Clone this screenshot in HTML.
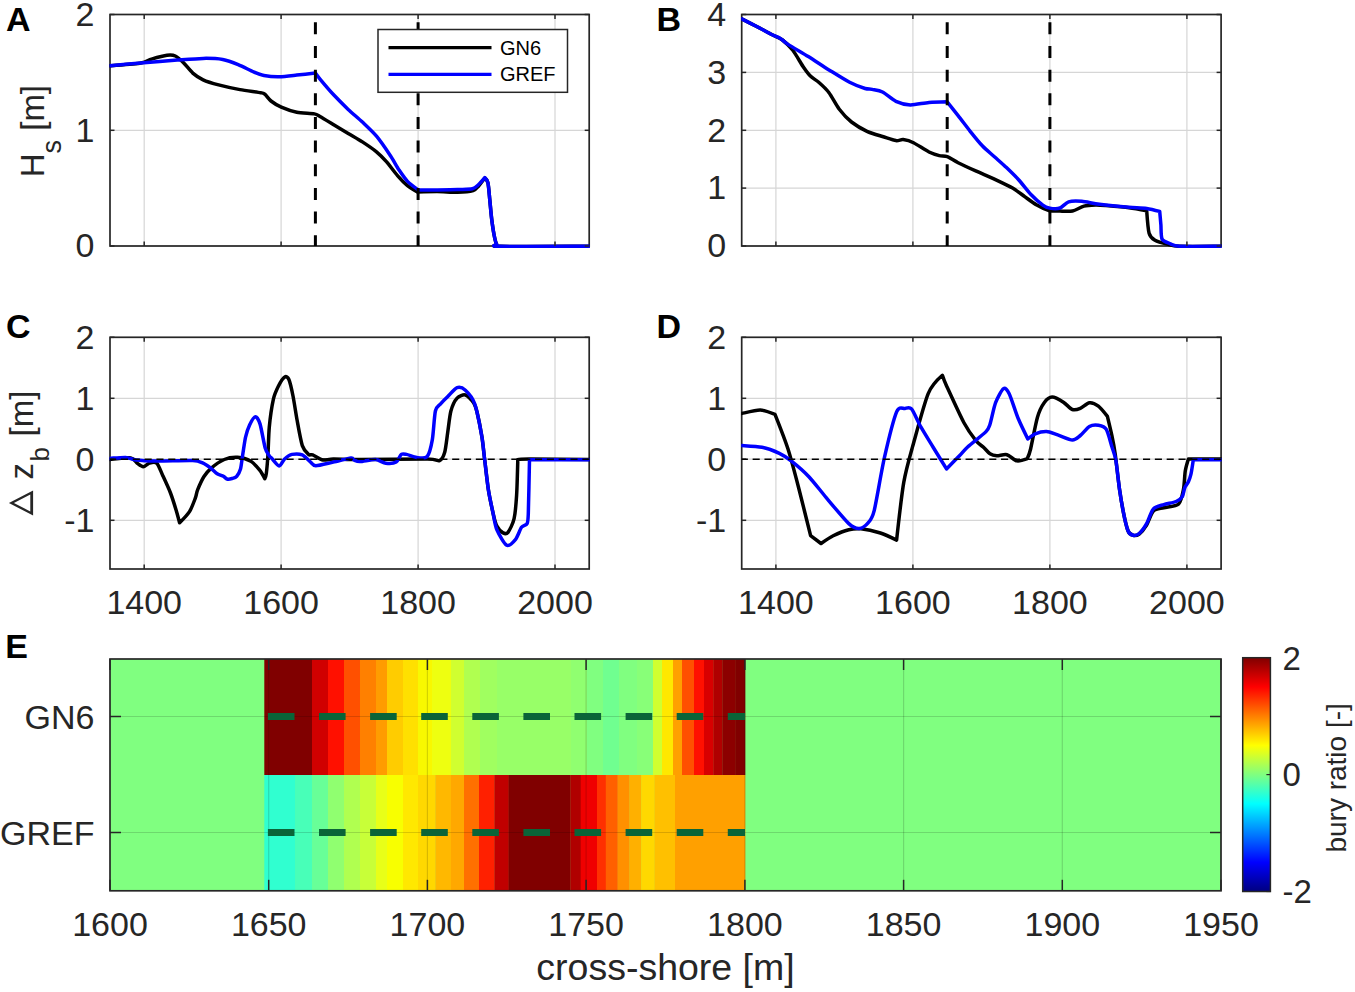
<!DOCTYPE html><html><head><meta charset="utf-8"><style>html,body{margin:0;padding:0;background:#fff;width:1355px;height:992px;overflow:hidden;position:relative}</style></head><body><svg width="1355" height="992" viewBox="0 0 1355 992" style="position:absolute;left:0;top:0">
<defs>
<clipPath id="cA"><rect x="109.5" y="12.5" width="480.20000000000005" height="235.5"/></clipPath>
<clipPath id="cB"><rect x="741.2" y="12.5" width="480.39999999999986" height="235.5"/></clipPath>
<clipPath id="cC"><rect x="109.5" y="335.3" width="480.20000000000005" height="235.7"/></clipPath>
<clipPath id="cD"><rect x="741.2" y="335.3" width="480.39999999999986" height="235.7"/></clipPath>
</defs>
<g font-family='"Liberation Sans", sans-serif'>
<line x1="144.2" y1="14.5" x2="144.2" y2="246.0" stroke="#d6d6d6" stroke-width="1.2"/>
<line x1="281.1" y1="14.5" x2="281.1" y2="246.0" stroke="#d6d6d6" stroke-width="1.2"/>
<line x1="418.1" y1="14.5" x2="418.1" y2="246.0" stroke="#d6d6d6" stroke-width="1.2"/>
<line x1="555.0" y1="14.5" x2="555.0" y2="246.0" stroke="#d6d6d6" stroke-width="1.2"/>
<line x1="110.0" y1="246.0" x2="589.2" y2="246.0" stroke="#d6d6d6" stroke-width="1.2"/>
<line x1="110.0" y1="130.3" x2="589.2" y2="130.3" stroke="#d6d6d6" stroke-width="1.2"/>
<line x1="110.0" y1="14.5" x2="589.2" y2="14.5" stroke="#d6d6d6" stroke-width="1.2"/>

<rect x="110.0" y="14.5" width="479.20000000000005" height="231.5" fill="none" stroke="#262626" stroke-width="1.7"/>
<g clip-path="url(#cA)" fill="none" stroke-linejoin="round" stroke-linecap="round">
<path d="M110.0,65.8 C114.1,65.4 135.5,63.8 141.0,62.9 C146.5,62.0 148.0,60.1 151.5,59.1 C155.0,58.1 163.8,55.7 167.0,55.3 C170.2,54.9 173.1,55.0 175.3,56.0 C177.5,57.0 181.2,60.4 183.5,62.7 C185.8,65.0 190.2,70.8 192.8,73.1 C195.4,75.4 199.7,78.2 203.1,79.8 C206.5,81.4 213.7,83.6 218.6,84.9 C223.5,86.2 234.4,88.6 240.0,89.6 C245.6,90.6 257.4,92.1 260.7,92.7 C264.0,93.3 263.4,93.1 264.8,94.2 C266.2,95.3 268.8,99.3 271.0,101.0 C273.2,102.7 277.9,105.7 281.3,107.2 C284.7,108.7 292.4,111.4 296.8,112.3 C301.2,113.2 311.3,113.3 314.4,113.9 C317.5,114.5 317.4,115.0 320.0,116.5 C322.6,118.0 330.3,122.7 334.1,125.0 C337.9,127.3 344.4,131.1 348.2,133.4 C352.0,135.7 358.6,139.4 362.4,141.9 C366.2,144.4 373.3,149.2 376.5,151.8 C379.7,154.4 383.6,158.5 386.4,161.7 C389.2,164.9 394.9,172.6 397.7,175.8 C400.5,179.0 404.9,183.5 407.5,185.7 C410.1,187.9 417.4,192.0 417.4,192.0 C417.4,192.0 431.6,191.6 437.0,191.6 C442.4,191.6 452.9,192.3 457.7,192.2 C462.5,192.1 470.4,191.3 473.2,190.5 C476.0,189.7 477.1,187.7 478.6,186.0 C480.1,184.3 484.8,178.0 484.8,178.0 C484.8,178.0 487.2,179.8 487.9,182.7 C488.6,185.6 489.3,195.0 489.8,200.0 C490.3,205.0 491.2,215.4 491.8,220.0 C492.4,224.6 493.4,231.3 494.0,234.5 C494.6,237.7 495.7,242.4 496.5,244.0 C497.3,245.6 487.7,246.0 500.0,246.3 C512.3,246.6 577.1,246.3 589.0,246.3" stroke="#000" stroke-width="3.5"/>
<path d="M110.0,65.8 C114.5,65.4 134.7,63.5 143.7,62.7 C152.7,61.9 169.4,60.7 177.3,60.1 C185.2,59.5 197.0,58.5 203.1,58.4 C209.2,58.3 218.0,58.7 222.7,59.5 C227.4,60.3 234.1,62.9 238.2,64.6 C242.3,66.3 250.2,70.4 253.6,71.9 C257.0,73.4 260.6,74.9 264.0,75.5 C267.4,76.1 274.9,76.8 279.3,76.7 C283.7,76.6 292.0,75.6 296.8,75.1 C301.6,74.6 315.4,73.1 315.4,73.1 C315.4,73.1 317.5,76.1 320.0,79.1 C322.5,82.1 330.3,91.3 334.1,95.3 C337.9,99.3 344.4,105.8 348.2,109.4 C352.0,113.0 358.6,118.5 362.4,122.1 C366.2,125.7 372.7,131.7 376.5,136.2 C380.3,140.7 387.6,151.5 390.6,156.0 C393.6,160.5 396.8,166.7 399.1,170.1 C401.4,173.5 405.0,178.8 407.5,181.4 C410.0,184.0 418.2,189.9 418.2,189.9 C418.2,189.9 431.7,190.1 437.0,190.0 C442.3,189.9 453.0,189.7 457.7,189.5 C462.4,189.3 469.6,189.5 472.4,188.8 C475.2,188.1 476.9,186.0 478.6,184.5 C480.3,183.0 484.8,177.6 484.8,177.6 C484.8,177.6 487.2,179.7 487.9,182.7 C488.6,185.7 489.3,195.0 489.8,200.0 C490.3,205.0 491.2,215.4 491.8,220.0 C492.4,224.6 493.4,231.3 494.0,234.5 C494.6,237.7 495.7,242.4 496.5,244.0 C497.3,245.6 487.7,246.0 500.0,246.3 C512.3,246.6 577.1,246.3 589.0,246.3" stroke="#0000ff" stroke-width="3.5"/>
</g>
<line x1="144.2" y1="246.0" x2="144.2" y2="241.5" stroke="#262626" stroke-width="1.5"/>
<line x1="144.2" y1="14.5" x2="144.2" y2="19.0" stroke="#262626" stroke-width="1.5"/>
<line x1="281.1" y1="246.0" x2="281.1" y2="241.5" stroke="#262626" stroke-width="1.5"/>
<line x1="281.1" y1="14.5" x2="281.1" y2="19.0" stroke="#262626" stroke-width="1.5"/>
<line x1="418.1" y1="246.0" x2="418.1" y2="241.5" stroke="#262626" stroke-width="1.5"/>
<line x1="418.1" y1="14.5" x2="418.1" y2="19.0" stroke="#262626" stroke-width="1.5"/>
<line x1="555.0" y1="246.0" x2="555.0" y2="241.5" stroke="#262626" stroke-width="1.5"/>
<line x1="555.0" y1="14.5" x2="555.0" y2="19.0" stroke="#262626" stroke-width="1.5"/>
<line x1="110.0" y1="246.0" x2="114.5" y2="246.0" stroke="#262626" stroke-width="1.5"/>
<line x1="589.2" y1="246.0" x2="584.7" y2="246.0" stroke="#262626" stroke-width="1.5"/>
<line x1="110.0" y1="130.3" x2="114.5" y2="130.3" stroke="#262626" stroke-width="1.5"/>
<line x1="589.2" y1="130.3" x2="584.7" y2="130.3" stroke="#262626" stroke-width="1.5"/>
<line x1="110.0" y1="14.5" x2="114.5" y2="14.5" stroke="#262626" stroke-width="1.5"/>
<line x1="589.2" y1="14.5" x2="584.7" y2="14.5" stroke="#262626" stroke-width="1.5"/>
<text x="94.5" y="257.3" text-anchor="end" font-size="34" fill="#262626">0</text>
<text x="94.5" y="141.60000000000002" text-anchor="end" font-size="34" fill="#262626">1</text>
<text x="94.5" y="25.8" text-anchor="end" font-size="34" fill="#262626">2</text>
<line x1="315.4" y1="246.0" x2="315.4" y2="14.5" stroke="#000" stroke-width="3" stroke-dasharray="12 11.65" stroke-dashoffset="1.2"/><line x1="418.1" y1="246.0" x2="418.1" y2="14.5" stroke="#000" stroke-width="3" stroke-dasharray="12 11.65" stroke-dashoffset="1.2"/>
<line x1="775.9" y1="14.5" x2="775.9" y2="246.0" stroke="#d6d6d6" stroke-width="1.2"/>
<line x1="912.9" y1="14.5" x2="912.9" y2="246.0" stroke="#d6d6d6" stroke-width="1.2"/>
<line x1="1049.9" y1="14.5" x2="1049.9" y2="246.0" stroke="#d6d6d6" stroke-width="1.2"/>
<line x1="1186.9" y1="14.5" x2="1186.9" y2="246.0" stroke="#d6d6d6" stroke-width="1.2"/>
<line x1="741.7" y1="246.0" x2="1221.1" y2="246.0" stroke="#d6d6d6" stroke-width="1.2"/>
<line x1="741.7" y1="188.1" x2="1221.1" y2="188.1" stroke="#d6d6d6" stroke-width="1.2"/>
<line x1="741.7" y1="130.3" x2="1221.1" y2="130.3" stroke="#d6d6d6" stroke-width="1.2"/>
<line x1="741.7" y1="72.4" x2="1221.1" y2="72.4" stroke="#d6d6d6" stroke-width="1.2"/>
<line x1="741.7" y1="14.5" x2="1221.1" y2="14.5" stroke="#d6d6d6" stroke-width="1.2"/>

<rect x="741.7" y="14.5" width="479.39999999999986" height="231.5" fill="none" stroke="#262626" stroke-width="1.7"/>
<g clip-path="url(#cB)" fill="none" stroke-linejoin="round" stroke-linecap="round">
<path d="M741.7,18.8 C743.7,19.8 752.6,24.4 756.7,26.5 C760.8,28.6 768.8,33.0 772.2,34.8 C775.6,36.6 779.8,37.9 782.5,40.0 C785.2,42.1 790.0,46.7 792.8,50.3 C795.6,53.9 800.9,63.4 803.2,66.8 C805.5,70.2 808.3,74.0 810.4,76.1 C812.5,78.2 816.2,80.1 818.7,82.3 C821.2,84.5 826.3,89.1 829.0,92.7 C831.7,96.3 836.3,105.3 839.3,109.2 C842.3,113.1 847.8,119.1 851.5,122.0 C855.2,124.9 862.9,129.4 867.0,131.3 C871.1,133.2 878.6,135.3 882.5,136.5 C886.4,137.7 893.1,140.2 895.9,140.6 C898.7,141.0 900.9,139.3 903.2,139.6 C905.5,139.9 910.1,141.0 913.5,142.7 C916.9,144.4 925.6,150.3 929.0,152.0 C932.4,153.7 936.9,155.0 939.3,155.6 C941.7,156.2 944.8,155.8 947.3,156.7 C949.8,157.6 954.2,160.8 958.1,162.7 C962.0,164.6 971.5,169.0 976.3,171.2 C981.1,173.4 989.6,176.8 994.4,179.1 C999.2,181.4 1008.6,185.8 1012.6,188.1 C1016.6,190.4 1021.5,194.3 1024.7,196.6 C1027.9,198.9 1033.6,203.2 1036.8,205.1 C1040.0,207.0 1045.8,209.7 1048.9,210.5 C1052.0,211.3 1056.9,211.0 1060.0,211.1 C1063.1,211.2 1069.3,211.7 1072.5,211.0 C1075.7,210.3 1080.9,206.9 1084.0,206.1 C1087.1,205.3 1092.6,205.1 1095.5,205.0 C1098.4,204.9 1100.9,205.1 1105.4,205.5 C1109.9,205.9 1123.5,207.1 1129.0,207.8 C1134.5,208.5 1146.7,210.8 1146.7,210.8 C1146.7,210.8 1148.0,229.3 1149.1,233.2 C1150.2,237.1 1152.5,238.8 1155.0,240.3 C1157.5,241.8 1164.7,243.6 1168.0,244.4 C1171.3,245.2 1172.7,246.0 1179.8,246.3 C1186.9,246.6 1215.5,246.3 1221.0,246.3" stroke="#000" stroke-width="3.5"/>
<path d="M741.7,18.8 C743.7,19.8 752.6,24.4 756.7,26.5 C760.8,28.6 769.0,33.2 772.2,34.8 C775.4,36.4 778.3,37.2 780.4,38.4 C782.5,39.6 784.0,41.7 787.7,44.1 C791.4,46.5 802.8,53.1 808.3,56.5 C813.8,59.9 823.5,66.5 829.0,69.9 C834.5,73.3 844.8,79.8 849.6,82.3 C854.4,84.8 862.1,87.6 865.1,88.5 C868.1,89.4 869.9,88.9 872.2,89.4 C874.5,89.9 879.3,90.4 882.5,92.0 C885.7,93.6 892.2,99.6 895.9,101.3 C899.6,103.0 906.0,104.8 910.4,104.9 C914.8,105.0 924.1,102.8 929.0,102.4 C933.9,102.0 947.0,101.7 947.0,101.7 C947.0,101.7 955.0,111.7 958.1,115.6 C961.2,119.5 967.0,127.3 970.2,131.3 C973.4,135.3 979.1,142.4 982.3,145.8 C985.5,149.2 991.2,153.8 994.4,156.7 C997.6,159.6 1003.3,164.5 1006.5,167.6 C1009.7,170.7 1015.4,176.2 1018.6,179.7 C1021.8,183.2 1027.5,190.8 1030.7,194.2 C1033.9,197.6 1040.3,203.2 1042.8,205.1 C1045.3,207.0 1047.5,207.7 1049.8,208.1 C1052.1,208.5 1057.5,208.8 1060.0,208.0 C1062.5,207.2 1065.7,202.7 1068.6,201.8 C1071.5,200.9 1077.7,201.0 1081.8,201.3 C1085.9,201.6 1093.2,203.5 1099.5,204.3 C1105.8,205.1 1122.7,206.7 1129.0,207.2 C1135.3,207.7 1142.6,207.8 1146.7,208.4 C1150.8,209.0 1159.7,211.4 1159.7,211.4 C1159.7,211.4 1160.6,221.2 1160.9,224.9 C1161.2,228.6 1160.8,236.6 1162.1,239.1 C1163.4,241.6 1168.0,242.8 1170.4,243.8 C1172.8,244.8 1173.1,246.0 1179.8,246.3 C1186.5,246.6 1215.5,246.3 1221.0,246.3" stroke="#0000ff" stroke-width="3.5"/>
</g>
<line x1="775.9" y1="246.0" x2="775.9" y2="241.5" stroke="#262626" stroke-width="1.5"/>
<line x1="775.9" y1="14.5" x2="775.9" y2="19.0" stroke="#262626" stroke-width="1.5"/>
<line x1="912.9" y1="246.0" x2="912.9" y2="241.5" stroke="#262626" stroke-width="1.5"/>
<line x1="912.9" y1="14.5" x2="912.9" y2="19.0" stroke="#262626" stroke-width="1.5"/>
<line x1="1049.9" y1="246.0" x2="1049.9" y2="241.5" stroke="#262626" stroke-width="1.5"/>
<line x1="1049.9" y1="14.5" x2="1049.9" y2="19.0" stroke="#262626" stroke-width="1.5"/>
<line x1="1186.9" y1="246.0" x2="1186.9" y2="241.5" stroke="#262626" stroke-width="1.5"/>
<line x1="1186.9" y1="14.5" x2="1186.9" y2="19.0" stroke="#262626" stroke-width="1.5"/>
<line x1="741.7" y1="246.0" x2="746.2" y2="246.0" stroke="#262626" stroke-width="1.5"/>
<line x1="1221.1" y1="246.0" x2="1216.6" y2="246.0" stroke="#262626" stroke-width="1.5"/>
<line x1="741.7" y1="188.1" x2="746.2" y2="188.1" stroke="#262626" stroke-width="1.5"/>
<line x1="1221.1" y1="188.1" x2="1216.6" y2="188.1" stroke="#262626" stroke-width="1.5"/>
<line x1="741.7" y1="130.3" x2="746.2" y2="130.3" stroke="#262626" stroke-width="1.5"/>
<line x1="1221.1" y1="130.3" x2="1216.6" y2="130.3" stroke="#262626" stroke-width="1.5"/>
<line x1="741.7" y1="72.4" x2="746.2" y2="72.4" stroke="#262626" stroke-width="1.5"/>
<line x1="1221.1" y1="72.4" x2="1216.6" y2="72.4" stroke="#262626" stroke-width="1.5"/>
<line x1="741.7" y1="14.5" x2="746.2" y2="14.5" stroke="#262626" stroke-width="1.5"/>
<line x1="1221.1" y1="14.5" x2="1216.6" y2="14.5" stroke="#262626" stroke-width="1.5"/>
<text x="726.2" y="257.3" text-anchor="end" font-size="34" fill="#262626">0</text>
<text x="726.2" y="199.4" text-anchor="end" font-size="34" fill="#262626">1</text>
<text x="726.2" y="141.60000000000002" text-anchor="end" font-size="34" fill="#262626">2</text>
<text x="726.2" y="83.7" text-anchor="end" font-size="34" fill="#262626">3</text>
<text x="726.2" y="25.8" text-anchor="end" font-size="34" fill="#262626">4</text>
<line x1="947.2" y1="246.0" x2="947.2" y2="14.5" stroke="#000" stroke-width="3" stroke-dasharray="12 11.65" stroke-dashoffset="1.2"/><line x1="1049.9" y1="246.0" x2="1049.9" y2="14.5" stroke="#000" stroke-width="3" stroke-dasharray="12 11.65" stroke-dashoffset="1.2"/>
<line x1="144.2" y1="337.3" x2="144.2" y2="569.0" stroke="#d6d6d6" stroke-width="1.2"/>
<line x1="281.1" y1="337.3" x2="281.1" y2="569.0" stroke="#d6d6d6" stroke-width="1.2"/>
<line x1="418.1" y1="337.3" x2="418.1" y2="569.0" stroke="#d6d6d6" stroke-width="1.2"/>
<line x1="555.0" y1="337.3" x2="555.0" y2="569.0" stroke="#d6d6d6" stroke-width="1.2"/>
<line x1="110.0" y1="520.3" x2="589.2" y2="520.3" stroke="#d6d6d6" stroke-width="1.2"/>
<line x1="110.0" y1="459.2" x2="589.2" y2="459.2" stroke="#d6d6d6" stroke-width="1.2"/>
<line x1="110.0" y1="398.3" x2="589.2" y2="398.3" stroke="#d6d6d6" stroke-width="1.2"/>
<line x1="110.0" y1="337.3" x2="589.2" y2="337.3" stroke="#d6d6d6" stroke-width="1.2"/>

<rect x="110.0" y="337.3" width="479.20000000000005" height="231.7" fill="none" stroke="#262626" stroke-width="1.7"/>
<g clip-path="url(#cC)" fill="none" stroke-linejoin="round" stroke-linecap="round">
<path d="M110.0,459.4 C112.8,459.2 127.2,457.4 130.8,457.9 C134.4,458.4 135.3,461.9 137.0,463.1 C138.7,464.3 141.5,466.7 143.2,466.7 C144.9,466.7 147.6,463.6 149.4,463.1 C151.2,462.6 154.9,461.5 156.7,463.1 C158.5,464.7 160.8,471.3 162.6,475.2 C164.4,479.1 168.5,487.9 170.3,492.5 C172.1,497.1 174.8,505.8 176.0,509.8 C177.2,513.8 179.6,522.8 179.6,522.8 C179.6,522.8 187.4,514.9 189.5,511.6 C191.6,508.3 194.2,501.1 195.3,498.2 C196.4,495.3 196.5,492.5 197.7,489.6 C198.9,486.7 202.2,479.3 204.0,476.5 C205.8,473.7 208.3,470.6 211.0,468.3 C213.7,466.0 220.8,461.0 224.3,459.5 C227.8,458.0 234.1,457.1 237.6,457.3 C241.1,457.5 248.0,459.6 250.9,461.3 C253.8,463.0 257.8,467.8 259.7,470.1 C261.6,472.4 264.8,478.7 264.8,478.7 C264.8,478.7 265.9,476.7 266.3,473.6 C266.7,470.5 267.5,461.7 267.9,455.5 C268.3,449.3 268.6,434.5 269.3,427.0 C270.0,419.5 272.2,404.6 273.4,399.1 C274.6,393.6 277.1,388.7 278.6,385.7 C280.1,382.7 283.4,377.7 284.8,376.9 C286.2,376.1 287.8,377.0 288.9,379.5 C290.0,382.0 291.9,390.5 293.0,396.0 C294.1,401.5 296.0,414.2 297.2,420.8 C298.4,427.4 300.8,441.1 302.3,445.6 C303.8,450.1 307.1,453.2 308.5,454.4 C309.9,455.6 310.8,454.2 312.7,454.9 C314.6,455.6 320.3,459.5 323.0,460.0 C325.7,460.5 328.4,459.1 333.3,459.0 C338.2,458.9 347.5,459.6 360.0,459.6 C372.5,459.6 416.6,458.9 427.2,459.0 C437.8,459.1 437.3,461.5 439.6,460.6 C441.9,459.7 443.6,456.2 444.7,452.3 C445.8,448.4 447.0,437.2 447.8,431.7 C448.6,426.2 449.7,415.5 450.9,411.0 C452.1,406.5 455.2,400.2 457.1,398.1 C459.0,396.0 463.2,394.4 465.4,395.0 C467.6,395.6 472.1,400.4 473.6,402.7 C475.1,405.0 475.9,407.5 477.0,412.0 C478.1,416.5 480.9,430.5 481.9,436.8 C482.9,443.1 483.7,452.1 484.6,459.1 C485.5,466.1 487.2,481.9 488.3,489.2 C489.4,496.5 492.1,508.9 493.2,513.8 C494.3,518.7 495.6,523.6 496.9,526.1 C498.2,528.6 501.6,532.1 503.1,532.9 C504.6,533.7 506.5,534.2 508.0,532.3 C509.5,530.4 513.0,523.6 514.1,518.7 C515.2,513.8 516.1,503.3 516.6,495.4 C517.1,487.5 517.8,459.7 517.8,459.7 C517.8,459.7 519.4,459.1 528.9,459.1 C538.4,459.1 581.0,459.4 589.0,459.4" stroke="#000" stroke-width="3.5"/>
<path d="M110.0,458.4 C112.1,458.3 122.2,457.2 125.7,457.4 C129.2,457.6 131.9,459.5 136.0,460.0 C140.1,460.5 149.1,460.9 156.7,461.0 C164.3,461.1 186.6,460.2 192.8,460.5 C199.0,460.8 200.7,462.1 203.1,463.1 C205.5,464.1 209.1,466.9 211.0,468.3 C212.9,469.7 215.5,472.6 217.2,473.7 C218.9,474.8 222.1,475.6 223.4,476.3 C224.7,477.0 225.9,478.7 227.0,479.0 C228.1,479.3 230.7,478.9 232.0,478.5 C233.3,478.1 235.6,477.6 236.7,476.3 C237.8,475.0 239.7,471.8 240.5,469.0 C241.3,466.2 241.9,459.7 242.6,455.5 C243.3,451.3 244.6,441.4 245.5,437.3 C246.4,433.2 248.3,427.6 249.6,424.9 C250.9,422.2 253.9,416.8 255.3,416.7 C256.7,416.6 258.7,419.8 260.0,423.9 C261.3,428.0 263.9,443.4 265.1,447.7 C266.3,452.0 268.4,454.5 269.3,455.9 C270.2,457.3 270.2,456.8 271.5,458.1 C272.8,459.4 277.5,465.9 279.2,466.0 C280.9,466.1 282.9,460.5 284.6,459.0 C286.3,457.5 289.6,454.9 292.0,454.4 C294.4,453.9 299.8,453.9 302.3,454.9 C304.8,455.9 308.8,460.7 310.6,462.1 C312.4,463.5 312.8,465.7 315.8,465.7 C318.8,465.7 328.6,463.1 333.3,462.1 C338.0,461.1 348.1,458.3 350.9,458.0 C353.7,457.7 352.8,459.5 354.0,460.0 C355.2,460.5 357.1,461.7 360.0,461.6 C362.9,461.5 372.1,459.4 375.5,459.6 C378.9,459.8 383.0,462.9 385.8,463.2 C388.6,463.5 394.1,463.3 396.2,462.1 C398.3,460.9 399.9,455.4 401.3,454.4 C402.7,453.4 404.4,454.0 406.5,454.4 C408.6,454.8 414.0,457.2 416.8,457.5 C419.6,457.8 425.1,458.8 427.2,456.5 C429.3,454.2 431.2,446.0 432.3,439.9 C433.4,433.8 434.3,415.8 435.4,411.0 C436.5,406.2 438.9,405.7 440.6,403.8 C442.3,401.9 445.6,398.6 447.8,396.5 C450.0,394.4 454.8,388.5 457.1,387.7 C459.4,386.9 463.1,388.2 465.4,390.3 C467.7,392.4 472.5,397.6 474.7,403.8 C476.9,410.0 480.6,429.4 481.9,436.8 C483.2,444.2 483.7,452.1 484.6,459.1 C485.5,466.1 487.2,481.9 488.3,489.2 C489.4,496.5 492.1,508.4 493.2,513.8 C494.3,519.2 495.1,525.6 496.9,529.8 C498.7,534.0 504.2,543.9 506.7,545.2 C509.2,546.5 513.4,542.0 515.4,539.6 C517.4,537.2 520.0,529.4 521.5,527.3 C523.0,525.2 526.1,525.5 527.0,523.7 C527.9,521.9 528.0,522.3 528.3,513.8 C528.6,505.3 529.5,459.7 529.5,459.7 C529.5,459.7 581.1,459.7 589.0,459.7" stroke="#0000ff" stroke-width="3.5"/>
</g>
<line x1="144.2" y1="569.0" x2="144.2" y2="564.5" stroke="#262626" stroke-width="1.5"/>
<line x1="144.2" y1="337.3" x2="144.2" y2="341.8" stroke="#262626" stroke-width="1.5"/>
<line x1="281.1" y1="569.0" x2="281.1" y2="564.5" stroke="#262626" stroke-width="1.5"/>
<line x1="281.1" y1="337.3" x2="281.1" y2="341.8" stroke="#262626" stroke-width="1.5"/>
<line x1="418.1" y1="569.0" x2="418.1" y2="564.5" stroke="#262626" stroke-width="1.5"/>
<line x1="418.1" y1="337.3" x2="418.1" y2="341.8" stroke="#262626" stroke-width="1.5"/>
<line x1="555.0" y1="569.0" x2="555.0" y2="564.5" stroke="#262626" stroke-width="1.5"/>
<line x1="555.0" y1="337.3" x2="555.0" y2="341.8" stroke="#262626" stroke-width="1.5"/>
<line x1="110.0" y1="520.3" x2="114.5" y2="520.3" stroke="#262626" stroke-width="1.5"/>
<line x1="589.2" y1="520.3" x2="584.7" y2="520.3" stroke="#262626" stroke-width="1.5"/>
<line x1="110.0" y1="459.2" x2="114.5" y2="459.2" stroke="#262626" stroke-width="1.5"/>
<line x1="589.2" y1="459.2" x2="584.7" y2="459.2" stroke="#262626" stroke-width="1.5"/>
<line x1="110.0" y1="398.3" x2="114.5" y2="398.3" stroke="#262626" stroke-width="1.5"/>
<line x1="589.2" y1="398.3" x2="584.7" y2="398.3" stroke="#262626" stroke-width="1.5"/>
<line x1="110.0" y1="337.3" x2="114.5" y2="337.3" stroke="#262626" stroke-width="1.5"/>
<line x1="589.2" y1="337.3" x2="584.7" y2="337.3" stroke="#262626" stroke-width="1.5"/>
<text x="94.5" y="531.5999999999999" text-anchor="end" font-size="34" fill="#262626">-1</text>
<text x="94.5" y="470.5" text-anchor="end" font-size="34" fill="#262626">0</text>
<text x="94.5" y="409.6" text-anchor="end" font-size="34" fill="#262626">1</text>
<text x="94.5" y="348.6" text-anchor="end" font-size="34" fill="#262626">2</text>
<line x1="110.0" y1="459.2" x2="589.2" y2="459.2" stroke="#000" stroke-width="1.5" stroke-dasharray="7.1 4.73" stroke-dashoffset="0.9"/>
<line x1="775.9" y1="337.3" x2="775.9" y2="569.0" stroke="#d6d6d6" stroke-width="1.2"/>
<line x1="912.9" y1="337.3" x2="912.9" y2="569.0" stroke="#d6d6d6" stroke-width="1.2"/>
<line x1="1049.9" y1="337.3" x2="1049.9" y2="569.0" stroke="#d6d6d6" stroke-width="1.2"/>
<line x1="1186.9" y1="337.3" x2="1186.9" y2="569.0" stroke="#d6d6d6" stroke-width="1.2"/>
<line x1="741.7" y1="520.3" x2="1221.1" y2="520.3" stroke="#d6d6d6" stroke-width="1.2"/>
<line x1="741.7" y1="459.2" x2="1221.1" y2="459.2" stroke="#d6d6d6" stroke-width="1.2"/>
<line x1="741.7" y1="398.3" x2="1221.1" y2="398.3" stroke="#d6d6d6" stroke-width="1.2"/>
<line x1="741.7" y1="337.3" x2="1221.1" y2="337.3" stroke="#d6d6d6" stroke-width="1.2"/>

<rect x="741.7" y="337.3" width="479.39999999999986" height="231.7" fill="none" stroke="#262626" stroke-width="1.7"/>
<g clip-path="url(#cD)" fill="none" stroke-linejoin="round" stroke-linecap="round">
<path d="M742.1,413.4 C744.5,412.9 755.9,409.9 760.3,410.0 C764.7,410.1 775.0,414.3 775.0,414.3 C775.0,414.3 784.9,439.3 788.0,449.0 C791.1,458.7 795.5,475.6 798.5,487.2 C801.5,498.8 810.6,535.7 810.6,535.7 C810.6,535.7 821.0,543.5 821.0,543.5 C821.0,543.5 829.5,537.5 833.2,535.7 C836.9,533.9 845.1,530.6 848.8,529.7 C852.5,528.8 856.7,528.4 860.9,528.8 C865.1,529.2 875.6,531.5 880.4,533.0 C885.2,534.5 896.6,540.1 896.6,540.1 C896.6,540.1 901.6,494.7 903.8,482.1 C906.0,469.5 909.6,457.3 912.9,445.5 C916.2,433.7 924.3,403.0 928.2,393.6 C932.1,384.2 942.4,375.3 942.4,375.3 C942.4,375.3 943.8,379.9 946.7,386.2 C949.6,392.5 959.9,415.2 963.8,422.5 C967.7,429.8 973.2,437.2 975.9,440.6 C978.6,444.0 982.1,445.9 984.0,447.7 C985.9,449.5 988.3,452.7 990.0,453.8 C991.7,454.9 994.5,455.7 996.8,455.8 C999.1,455.9 1004.2,454.0 1006.9,454.7 C1009.6,455.4 1014.4,460.4 1017.1,460.9 C1019.8,461.4 1027.3,458.6 1027.3,458.6 C1027.3,458.6 1029.3,454.5 1030.6,449.0 C1031.9,443.5 1035.6,423.6 1037.4,417.4 C1039.2,411.2 1042.2,405.4 1044.2,402.7 C1046.2,400.0 1049.5,397.2 1052.1,397.1 C1054.7,397.0 1060.7,400.5 1063.4,402.2 C1066.1,403.9 1070.1,408.7 1072.4,409.5 C1074.7,410.3 1078.0,409.3 1080.3,408.4 C1082.6,407.5 1087.0,403.0 1089.4,402.7 C1091.8,402.4 1096.0,404.3 1098.4,406.1 C1100.8,407.9 1107.4,416.3 1107.4,416.3 C1107.4,416.3 1110.8,430.4 1111.9,435.5 C1113.0,440.6 1114.3,447.5 1115.3,454.7 C1116.3,461.9 1118.4,481.7 1119.5,489.2 C1120.6,496.7 1122.1,505.7 1123.2,511.3 C1124.3,516.9 1126.8,527.8 1128.1,531.0 C1129.4,534.2 1131.6,534.9 1133.1,535.3 C1134.6,535.7 1137.4,535.4 1139.2,534.0 C1141.0,532.6 1144.7,528.1 1146.6,525.0 C1148.5,521.9 1151.1,513.3 1153.4,511.0 C1155.7,508.7 1160.4,508.6 1163.8,507.7 C1167.2,506.8 1176.0,506.5 1178.6,504.0 C1181.2,501.5 1182.6,493.6 1183.5,489.2 C1184.4,484.8 1184.6,474.8 1185.3,470.8 C1186.0,466.8 1188.4,459.1 1188.4,459.1 C1188.4,459.1 1216.7,459.1 1221.0,459.1" stroke="#000" stroke-width="3.5"/>
<path d="M742.1,445.5 C744.8,445.7 757.0,446.3 762.0,447.3 C767.0,448.3 775.5,451.5 779.4,453.3 C783.3,455.1 787.6,458.0 791.5,461.1 C795.4,464.2 804.3,471.8 808.9,476.7 C813.5,481.6 820.9,491.3 826.2,497.6 C831.5,503.9 844.4,519.5 848.8,523.6 C853.2,527.7 856.6,528.6 859.2,528.5 C861.8,528.4 866.1,525.2 868.1,522.8 C870.1,520.4 872.0,519.3 874.2,510.6 C876.4,501.9 881.4,470.9 884.4,457.7 C887.4,444.5 893.9,418.5 896.6,411.9 C899.3,405.3 902.8,408.9 904.8,408.5 C906.8,408.1 909.3,406.4 911.5,408.9 C913.7,411.4 918.1,422.1 921.0,427.2 C923.9,432.3 929.9,441.9 933.3,447.5 C936.7,453.1 946.5,468.9 946.5,468.9 C946.5,468.9 956.8,458.5 959.7,455.5 C962.6,452.5 964.4,449.9 967.9,446.7 C971.4,443.5 983.1,434.6 986.0,431.6 C988.9,428.6 988.7,428.1 990.0,424.2 C991.3,420.3 993.8,407.4 995.6,402.7 C997.4,398.0 1001.7,389.8 1003.5,388.6 C1005.3,387.4 1007.2,389.7 1009.2,393.7 C1011.2,397.7 1015.7,412.5 1018.2,418.5 C1020.7,424.5 1027.8,438.9 1027.8,438.9 C1027.8,438.9 1032.7,434.8 1035.2,433.8 C1037.7,432.8 1043.5,431.4 1046.5,431.5 C1049.5,431.6 1054.2,433.8 1057.7,434.9 C1061.2,436.0 1069.4,439.9 1072.4,440.0 C1075.4,440.1 1078.0,437.3 1080.3,435.5 C1082.6,433.7 1087.0,427.9 1089.4,426.5 C1091.8,425.1 1096.1,424.9 1098.4,425.3 C1100.7,425.7 1104.5,426.4 1106.3,429.3 C1108.1,432.2 1110.6,442.7 1111.9,446.8 C1113.2,450.9 1114.8,454.3 1115.8,460.0 C1116.8,465.7 1118.5,482.4 1119.5,489.2 C1120.5,496.0 1122.1,505.7 1123.2,511.3 C1124.3,516.9 1126.8,527.8 1128.1,531.0 C1129.4,534.2 1131.6,535.0 1133.1,535.3 C1134.6,535.6 1137.4,535.0 1139.2,533.5 C1141.0,532.0 1144.7,527.0 1146.6,523.7 C1148.5,520.4 1151.1,511.4 1153.4,508.9 C1155.7,506.4 1160.8,505.6 1163.8,504.6 C1166.8,503.6 1173.6,502.6 1176.1,501.5 C1178.6,500.4 1181.2,498.4 1182.3,496.6 C1183.4,494.8 1183.9,490.0 1184.7,488.0 C1185.5,486.0 1187.6,483.6 1188.4,481.8 C1189.2,480.0 1190.2,477.3 1190.9,474.4 C1191.6,471.5 1193.3,459.7 1193.3,459.7 C1193.3,459.7 1217.3,459.7 1221.0,459.7" stroke="#0000ff" stroke-width="3.5"/>
</g>
<line x1="775.9" y1="569.0" x2="775.9" y2="564.5" stroke="#262626" stroke-width="1.5"/>
<line x1="775.9" y1="337.3" x2="775.9" y2="341.8" stroke="#262626" stroke-width="1.5"/>
<line x1="912.9" y1="569.0" x2="912.9" y2="564.5" stroke="#262626" stroke-width="1.5"/>
<line x1="912.9" y1="337.3" x2="912.9" y2="341.8" stroke="#262626" stroke-width="1.5"/>
<line x1="1049.9" y1="569.0" x2="1049.9" y2="564.5" stroke="#262626" stroke-width="1.5"/>
<line x1="1049.9" y1="337.3" x2="1049.9" y2="341.8" stroke="#262626" stroke-width="1.5"/>
<line x1="1186.9" y1="569.0" x2="1186.9" y2="564.5" stroke="#262626" stroke-width="1.5"/>
<line x1="1186.9" y1="337.3" x2="1186.9" y2="341.8" stroke="#262626" stroke-width="1.5"/>
<line x1="741.7" y1="520.3" x2="746.2" y2="520.3" stroke="#262626" stroke-width="1.5"/>
<line x1="1221.1" y1="520.3" x2="1216.6" y2="520.3" stroke="#262626" stroke-width="1.5"/>
<line x1="741.7" y1="459.2" x2="746.2" y2="459.2" stroke="#262626" stroke-width="1.5"/>
<line x1="1221.1" y1="459.2" x2="1216.6" y2="459.2" stroke="#262626" stroke-width="1.5"/>
<line x1="741.7" y1="398.3" x2="746.2" y2="398.3" stroke="#262626" stroke-width="1.5"/>
<line x1="1221.1" y1="398.3" x2="1216.6" y2="398.3" stroke="#262626" stroke-width="1.5"/>
<line x1="741.7" y1="337.3" x2="746.2" y2="337.3" stroke="#262626" stroke-width="1.5"/>
<line x1="1221.1" y1="337.3" x2="1216.6" y2="337.3" stroke="#262626" stroke-width="1.5"/>
<text x="726.2" y="531.5999999999999" text-anchor="end" font-size="34" fill="#262626">-1</text>
<text x="726.2" y="470.5" text-anchor="end" font-size="34" fill="#262626">0</text>
<text x="726.2" y="409.6" text-anchor="end" font-size="34" fill="#262626">1</text>
<text x="726.2" y="348.6" text-anchor="end" font-size="34" fill="#262626">2</text>
<line x1="741.7" y1="459.2" x2="1221.1" y2="459.2" stroke="#000" stroke-width="1.5" stroke-dasharray="7.1 4.73" stroke-dashoffset="0.9"/>
<text x="144.2" y="613.6" text-anchor="middle" font-size="34" fill="#262626">1400</text>
<text x="281.1" y="613.6" text-anchor="middle" font-size="34" fill="#262626">1600</text>
<text x="418.1" y="613.6" text-anchor="middle" font-size="34" fill="#262626">1800</text>
<text x="555.0" y="613.6" text-anchor="middle" font-size="34" fill="#262626">2000</text>
<text x="775.9" y="613.6" text-anchor="middle" font-size="34" fill="#262626">1400</text>
<text x="912.9" y="613.6" text-anchor="middle" font-size="34" fill="#262626">1600</text>
<text x="1049.9" y="613.6" text-anchor="middle" font-size="34" fill="#262626">1800</text>
<text x="1186.9" y="613.6" text-anchor="middle" font-size="34" fill="#262626">2000</text>
<rect x="378" y="29.5" width="189.5" height="62.8" fill="#fff" stroke="#262626" stroke-width="1.5"/>
<line x1="388.5" y1="47.6" x2="491.5" y2="47.6" stroke="#000" stroke-width="3.1"/>
<line x1="388.5" y1="74.4" x2="491.5" y2="74.4" stroke="#0000ff" stroke-width="3.1"/>
<text x="500" y="54.6" font-size="20" fill="#000">GN6</text>
<text x="500" y="81.2" font-size="20" fill="#000">GREF</text>
<text x="6" y="30.8" font-size="34" font-weight="bold" fill="#000">A</text>
<text x="656.5" y="31.3" font-size="34" font-weight="bold" fill="#000">B</text>
<text x="6" y="338" font-size="34" font-weight="bold" fill="#000">C</text>
<text x="656.5" y="338" font-size="34" font-weight="bold" fill="#000">D</text>
<text x="5.3" y="657.5" font-size="34" font-weight="bold" fill="#000">E</text>
<text transform="translate(43.8,177.3) rotate(-90)" font-size="33" fill="#262626">H<tspan font-size="27" dy="17">s</tspan><tspan dy="-17"> [m]</tspan></text>
<path d="M33.1,490.5 L33.1,515.5 L8.9,503 Z M30.3,494.6 L30.3,511.4 L13.9,503 Z" fill="#262626" fill-rule="evenodd"/>
<text transform="translate(33.1,471.2) rotate(-90)" text-anchor="middle" font-size="33" fill="#262626">z</text>
<text transform="translate(49.2,454.2) rotate(-90)" text-anchor="middle" font-size="26" fill="#262626">b</text>
<text transform="translate(33.1,413.5) rotate(-90)" text-anchor="middle" font-size="33" fill="#262626">[m]</text>
<rect x="110.0" y="659.0" width="1111.0" height="231.79999999999995" fill="#80ff80"/>
<rect x="264.3" y="659.0" width="48.0" height="116.0" fill="#800000"/>
<rect x="312" y="659.0" width="16.3" height="116.0" fill="#d00000"/>
<rect x="328" y="659.0" width="16.3" height="116.0" fill="#ff1000"/>
<rect x="344" y="659.0" width="16.3" height="116.0" fill="#ff5000"/>
<rect x="360" y="659.0" width="16.3" height="116.0" fill="#ff8000"/>
<rect x="376" y="659.0" width="11.3" height="116.0" fill="#ff9c00"/>
<rect x="387" y="659.0" width="16.3" height="116.0" fill="#ffcc00"/>
<rect x="403" y="659.0" width="15.3" height="116.0" fill="#ffe000"/>
<rect x="418" y="659.0" width="14.3" height="116.0" fill="#f8f800"/>
<rect x="432" y="659.0" width="19.3" height="116.0" fill="#eeff10"/>
<rect x="451" y="659.0" width="13.3" height="116.0" fill="#d0ff30"/>
<rect x="464" y="659.0" width="16.3" height="116.0" fill="#b0ff50"/>
<rect x="480" y="659.0" width="17.3" height="116.0" fill="#a0ff60"/>
<rect x="497" y="659.0" width="74.3" height="116.0" fill="#98ff68"/>
<rect x="571" y="659.0" width="16.3" height="116.0" fill="#90ff70"/>
<rect x="587" y="659.0" width="16.3" height="116.0" fill="#80ff80"/>
<rect x="603" y="659.0" width="16.3" height="116.0" fill="#70ff90"/>
<rect x="619" y="659.0" width="18.3" height="116.0" fill="#80ff80"/>
<rect x="637" y="659.0" width="16.3" height="116.0" fill="#88ff78"/>
<rect x="653" y="659.0" width="9.3" height="116.0" fill="#d0ff30"/>
<rect x="662" y="659.0" width="11.3" height="116.0" fill="#ffe800"/>
<rect x="673" y="659.0" width="9.3" height="116.0" fill="#ffa000"/>
<rect x="682" y="659.0" width="12.3" height="116.0" fill="#ff5000"/>
<rect x="694" y="659.0" width="10.3" height="116.0" fill="#ff1000"/>
<rect x="704" y="659.0" width="9.8" height="116.0" fill="#d80000"/>
<rect x="713.5" y="659.0" width="9.2" height="116.0" fill="#b00000"/>
<rect x="722.4" y="659.0" width="13.5" height="116.0" fill="#8c0000"/>
<rect x="735.6" y="659.0" width="9.7" height="116.0" fill="#800000"/>
<rect x="264.3" y="775.0" width="31.4" height="115.79999999999995" fill="#30ffd0"/>
<rect x="295.4" y="775.0" width="16.9" height="115.79999999999995" fill="#48ffb8"/>
<rect x="312" y="775.0" width="16.3" height="115.79999999999995" fill="#68ff98"/>
<rect x="328" y="775.0" width="16.3" height="115.79999999999995" fill="#90ff70"/>
<rect x="344" y="775.0" width="16.3" height="115.79999999999995" fill="#b0ff50"/>
<rect x="360" y="775.0" width="16.3" height="115.79999999999995" fill="#c8ff38"/>
<rect x="376" y="775.0" width="11.3" height="115.79999999999995" fill="#e8ff18"/>
<rect x="387" y="775.0" width="16.3" height="115.79999999999995" fill="#f8ff00"/>
<rect x="403" y="775.0" width="15.3" height="115.79999999999995" fill="#ffe800"/>
<rect x="418" y="775.0" width="17.7" height="115.79999999999995" fill="#ffd800"/>
<rect x="435.4" y="775.0" width="15.9" height="115.79999999999995" fill="#ffb800"/>
<rect x="451" y="775.0" width="13.3" height="115.79999999999995" fill="#ffa800"/>
<rect x="464" y="775.0" width="15.3" height="115.79999999999995" fill="#ff7000"/>
<rect x="479" y="775.0" width="15.7" height="115.79999999999995" fill="#ff2000"/>
<rect x="494.4" y="775.0" width="14.5" height="115.79999999999995" fill="#c00000"/>
<rect x="508.6" y="775.0" width="62.0" height="115.79999999999995" fill="#800000"/>
<rect x="570.3" y="775.0" width="10.7" height="115.79999999999995" fill="#b00000"/>
<rect x="580.7" y="775.0" width="16.6" height="115.79999999999995" fill="#f00000"/>
<rect x="597" y="775.0" width="9.1" height="115.79999999999995" fill="#ff3000"/>
<rect x="605.8" y="775.0" width="12.1" height="115.79999999999995" fill="#ff6000"/>
<rect x="617.6" y="775.0" width="12.1" height="115.79999999999995" fill="#ff9000"/>
<rect x="629.4" y="775.0" width="12.1" height="115.79999999999995" fill="#ffb000"/>
<rect x="641.2" y="775.0" width="13.6" height="115.79999999999995" fill="#ffd800"/>
<rect x="654.5" y="775.0" width="20.8" height="115.79999999999995" fill="#ffc000"/>
<rect x="675" y="775.0" width="70.3" height="115.79999999999995" fill="#ffa000"/>
<line x1="268.7" y1="659.0" x2="268.7" y2="890.8" stroke="#000" stroke-opacity="0.15" stroke-width="1.2"/>
<line x1="427.4" y1="659.0" x2="427.4" y2="890.8" stroke="#000" stroke-opacity="0.15" stroke-width="1.2"/>
<line x1="586.1" y1="659.0" x2="586.1" y2="890.8" stroke="#000" stroke-opacity="0.15" stroke-width="1.2"/>
<line x1="744.9" y1="659.0" x2="744.9" y2="890.8" stroke="#000" stroke-opacity="0.15" stroke-width="1.2"/>
<line x1="903.6" y1="659.0" x2="903.6" y2="890.8" stroke="#000" stroke-opacity="0.15" stroke-width="1.2"/>
<line x1="1062.3" y1="659.0" x2="1062.3" y2="890.8" stroke="#000" stroke-opacity="0.15" stroke-width="1.2"/>
<line x1="1221.0" y1="659.0" x2="1221.0" y2="890.8" stroke="#000" stroke-opacity="0.15" stroke-width="1.2"/>
<line x1="110.0" y1="716.5" x2="1221.0" y2="716.5" stroke="#000" stroke-opacity="0.15" stroke-width="1.2"/>
<line x1="110.0" y1="832.5" x2="1221.0" y2="832.5" stroke="#000" stroke-opacity="0.15" stroke-width="1.2"/>
<line x1="267.9" y1="716.5" x2="745" y2="716.5" stroke="#0a6438" stroke-width="7.2" stroke-dasharray="26.6 24.5"/>
<line x1="267.9" y1="832.5" x2="745" y2="832.5" stroke="#0a6438" stroke-width="7.2" stroke-dasharray="26.6 24.5"/>
<line x1="110.0" y1="890.8" x2="110.0" y2="879.8" stroke="#262626" stroke-width="1.5"/>
<line x1="110.0" y1="659.0" x2="110.0" y2="670.0" stroke="#262626" stroke-width="1.5"/>
<text x="110.0" y="936.3" text-anchor="middle" font-size="34" fill="#262626">1600</text>
<line x1="268.7" y1="890.8" x2="268.7" y2="879.8" stroke="#262626" stroke-width="1.5"/>
<line x1="268.7" y1="659.0" x2="268.7" y2="670.0" stroke="#262626" stroke-width="1.5"/>
<text x="268.7" y="936.3" text-anchor="middle" font-size="34" fill="#262626">1650</text>
<line x1="427.4" y1="890.8" x2="427.4" y2="879.8" stroke="#262626" stroke-width="1.5"/>
<line x1="427.4" y1="659.0" x2="427.4" y2="670.0" stroke="#262626" stroke-width="1.5"/>
<text x="427.4" y="936.3" text-anchor="middle" font-size="34" fill="#262626">1700</text>
<line x1="586.1" y1="890.8" x2="586.1" y2="879.8" stroke="#262626" stroke-width="1.5"/>
<line x1="586.1" y1="659.0" x2="586.1" y2="670.0" stroke="#262626" stroke-width="1.5"/>
<text x="586.1" y="936.3" text-anchor="middle" font-size="34" fill="#262626">1750</text>
<line x1="744.9" y1="890.8" x2="744.9" y2="879.8" stroke="#262626" stroke-width="1.5"/>
<line x1="744.9" y1="659.0" x2="744.9" y2="670.0" stroke="#262626" stroke-width="1.5"/>
<text x="744.9" y="936.3" text-anchor="middle" font-size="34" fill="#262626">1800</text>
<line x1="903.6" y1="890.8" x2="903.6" y2="879.8" stroke="#262626" stroke-width="1.5"/>
<line x1="903.6" y1="659.0" x2="903.6" y2="670.0" stroke="#262626" stroke-width="1.5"/>
<text x="903.6" y="936.3" text-anchor="middle" font-size="34" fill="#262626">1850</text>
<line x1="1062.3" y1="890.8" x2="1062.3" y2="879.8" stroke="#262626" stroke-width="1.5"/>
<line x1="1062.3" y1="659.0" x2="1062.3" y2="670.0" stroke="#262626" stroke-width="1.5"/>
<text x="1062.3" y="936.3" text-anchor="middle" font-size="34" fill="#262626">1900</text>
<line x1="1221.0" y1="890.8" x2="1221.0" y2="879.8" stroke="#262626" stroke-width="1.5"/>
<line x1="1221.0" y1="659.0" x2="1221.0" y2="670.0" stroke="#262626" stroke-width="1.5"/>
<text x="1221.0" y="936.3" text-anchor="middle" font-size="34" fill="#262626">1950</text>
<line x1="110.0" y1="716.5" x2="121.0" y2="716.5" stroke="#262626" stroke-width="1.5"/>
<line x1="1221.0" y1="716.5" x2="1210.0" y2="716.5" stroke="#262626" stroke-width="1.5"/>
<text x="94.5" y="728.6" text-anchor="end" font-size="34" fill="#262626">GN6</text>
<line x1="110.0" y1="832.5" x2="121.0" y2="832.5" stroke="#262626" stroke-width="1.5"/>
<line x1="1221.0" y1="832.5" x2="1210.0" y2="832.5" stroke="#262626" stroke-width="1.5"/>
<text x="94.5" y="844.6" text-anchor="end" font-size="34" fill="#262626">GREF</text>
<rect x="110.0" y="659.0" width="1111.0" height="231.79999999999995" fill="none" stroke="#262626" stroke-width="1.7"/>
<text x="665.5" y="980.3" text-anchor="middle" font-size="37.5" fill="#262626">cross-shore [m]</text>
<defs><linearGradient id="jet" x1="0" y1="1" x2="0" y2="0"><stop offset="0" stop-color="#000080"/><stop offset="0.125" stop-color="#0000ff"/><stop offset="0.375" stop-color="#00ffff"/><stop offset="0.625" stop-color="#ffff00"/><stop offset="0.875" stop-color="#ff0000"/><stop offset="1" stop-color="#800000"/></linearGradient></defs>
<rect x="1242.7" y="657.7" width="27.700000000000045" height="233.79999999999995" fill="url(#jet)" stroke="#262626" stroke-width="1.5"/>
<line x1="1270.4" y1="657.7" x2="1266.4" y2="657.7" stroke="#262626" stroke-width="1.2"/>
<text x="1282.5" y="669.5" font-size="33" fill="#262626">2</text>
<line x1="1270.4" y1="774.6" x2="1266.4" y2="774.6" stroke="#262626" stroke-width="1.2"/>
<text x="1282.5" y="786.4" font-size="33" fill="#262626">0</text>
<line x1="1270.4" y1="891.5" x2="1266.4" y2="891.5" stroke="#262626" stroke-width="1.2"/>
<text x="1282.5" y="903.3" font-size="33" fill="#262626">-2</text>
<text transform="translate(1346.3,777.9) rotate(-90)" text-anchor="middle" font-size="28" fill="#262626">bury ratio [-]</text>
</g>
</svg></body></html>
